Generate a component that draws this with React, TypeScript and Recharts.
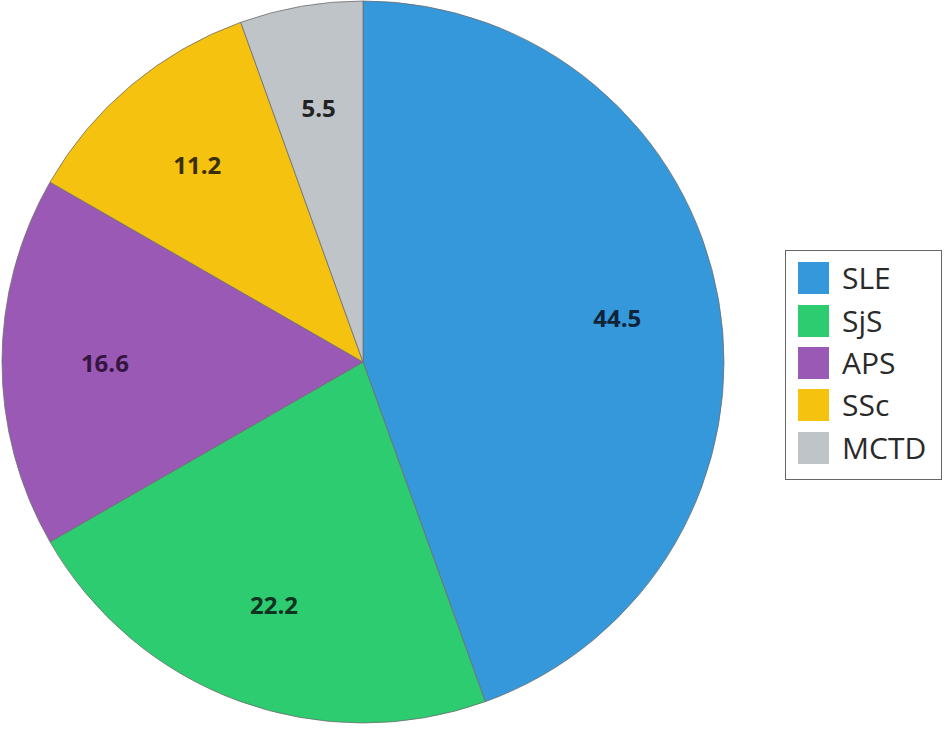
import { PieChart, Pie, Cell, Legend } from 'recharts';

const CATEGORIES = ['SLE', 'SjS', 'APS', 'SSc', 'MCTD'];
const VALUES = [44.5, 22.2, 16.6, 11.2, 5.5];
const COLORS = ['#3498db', '#2ecc71', '#9b59b6', '#f5c30f', '#bfc4c9'];
const LABEL_COLORS = ['#0f2438', '#0e3320', '#34153f', '#3a2e05', '#222222'];

const data = CATEGORIES.map((name, i) => ({ name, value: VALUES[i] }));

const FONT = '"Open Sans", "Noto Sans", sans-serif';
const RADIAN = Math.PI / 180;

function SliceLabel(props: any) {
  const { cx, cy, midAngle, outerRadius, index, value } = props;
  const r = outerRadius * 0.715;
  const x = cx + r * Math.cos(-midAngle * RADIAN);
  const y = cy + r * Math.sin(-midAngle * RADIAN);
  return (
    <text
      x={x}
      y={y}
      fill={LABEL_COLORS[index]}
      textAnchor="middle"
      dominantBaseline="central"
      fontFamily={FONT}
      fontWeight={700}
      fontSize={24}
    >
      {value.toFixed(1)}
    </text>
  );
}

function LegendBox({ payload }: any) {
  // keep the legend in data order (recharts sorts it by name otherwise)
  const items = [...(payload || [])].sort(
    (a: any, b: any) => CATEGORIES.indexOf(a.value) - CATEGORIES.indexOf(b.value)
  );
  return (
    <div
      style={{
        width: 157,
        height: 230,
        boxSizing: 'border-box',
        border: '1px solid #666',
        background: '#fff',
        padding: '6px 0 0 12px',
        fontFamily: FONT,
      }}
    >
      {items.map((entry: any, i: number) => (
        <div
          key={`leg-${i}`}
          style={{ display: 'flex', alignItems: 'center', height: 42.4 }}
        >
          <span
            style={{
              display: 'inline-block',
              width: 31,
              height: 32,
              background: entry.color,
              marginRight: 13,
            }}
          />
          <span style={{ fontSize: 30, color: '#2a2a2a', lineHeight: '32px' }}>
            {entry.value}
          </span>
        </div>
      ))}
    </div>
  );
}

export default function App() {
  return (
    <div style={{ width: 945, height: 729, background: '#fff' }}>
      <style>{'body { margin: 0; }'}</style>
      <PieChart
        width={945}
        height={729}
        margin={{ top: 0, right: 0, bottom: 0, left: 0 }}
      >
        <Pie
          data={data}
          dataKey="value"
          nameKey="name"
          cx={363}
          cy={362}
          outerRadius={361}
          startAngle={90}
          endAngle={-270}
          stroke="#6f6f6f"
          strokeWidth={0.8}
          label={SliceLabel}
          labelLine={false}
          isAnimationActive={false}
        >
          {data.map((_, index) => (
            <Cell key={`cell-${index}`} fill={COLORS[index]} />
          ))}
        </Pie>
        <Legend
          layout="vertical"
          align="right"
          verticalAlign="middle"
          itemSorter={null}
          content={<LegendBox />}
          wrapperStyle={{ position: 'absolute', left: 785, top: 250, width: 157 }}
        />
      </PieChart>
    </div>
  );
}
